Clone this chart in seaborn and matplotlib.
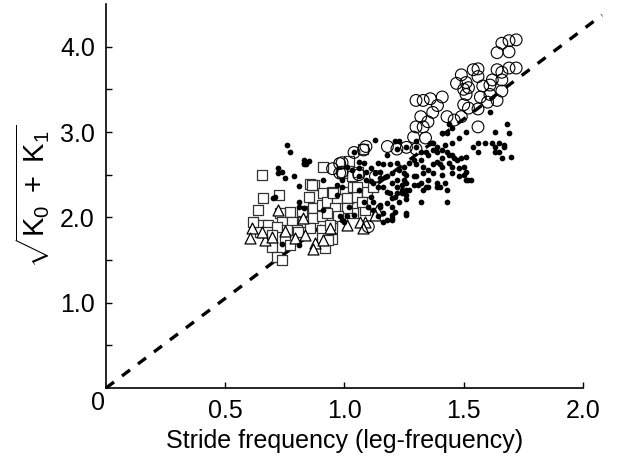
import matplotlib
matplotlib.use("Agg")
import pandas as pd
import seaborn as sns
from matplotlib import pyplot as plt

# open circles
circle_x = [1.66, 1.69, 1.72, 1.64, 1.69, 1.69, 1.72, 1.64, 1.66, 1.54, 1.56, 1.49, 1.56, 1.47,
            1.51, 1.62, 1.66, 1.58, 1.61, 1.52, 1.50, 1.66, 1.57, 1.61, 1.51, 1.50, 1.52, 1.56,
            1.64, 1.60, 1.41, 1.36, 1.33, 1.30, 1.39, 1.37, 1.32, 1.35, 1.43, 1.46, 1.49, 1.30,
            1.33, 1.56, 1.29, 1.34, 1.26, 1.18, 1.30, 1.22, 1.09, 1.08, 1.04, 0.98, 0.99, 0.95,
            0.98, 1.06, 1.13, 1.10, 0.99]
circle_y = [4.04, 4.07, 4.08, 3.93, 3.94, 3.75, 3.75, 3.73, 3.70, 3.73, 3.74, 3.67, 3.65, 3.57,
            3.58, 3.61, 3.61, 3.54, 3.55, 3.52, 3.50, 3.48, 3.41, 3.44, 3.44, 3.32, 3.28, 3.27,
            3.37, 3.35, 3.41, 3.39, 3.37, 3.37, 3.31, 3.23, 3.18, 3.12, 3.18, 3.14, 3.18, 3.06,
            3.06, 3.06, 2.94, 2.93, 2.82, 2.83, 2.80, 2.80, 2.83, 2.79, 2.76, 2.63, 2.64, 2.57,
            2.52, 2.50, 2.48, 1.89, 2.53]

# open squares
square_x = [0.654, 0.725, 0.658, 0.637, 0.855, 0.872, 0.910, 0.851, 0.910, 0.948, 0.771, 0.730,
            0.822, 0.868, 0.906, 0.948, 0.981, 1.002, 0.738, 0.780, 0.826, 0.868, 0.906, 0.948,
            0.981, 0.654, 0.679, 0.717, 0.646, 0.675, 0.616, 0.759, 0.801, 0.855, 0.906, 0.948,
            0.751, 0.696, 0.771, 0.906, 0.948, 0.918, 0.717, 0.738, 0.927, 0.969, 1.010, 1.036,
            1.052, 1.094, 1.119, 1.086, 1.036, 0.994, 1.031, 1.057, 0.990, 1.078, 1.019, 0.864,
            1.052, 0.952, 1.073, 0.960, 1.010, 0.927, 0.973, 0.939, 0.696, 0.805, 0.931]
square_y = [2.50, 2.26, 2.23, 2.09, 2.39, 2.38, 2.59, 2.24, 2.28, 2.30, 2.06, 2.05,
            2.08, 2.11, 2.15, 2.09, 2.22, 2.30, 1.95, 1.95, 1.95, 1.99, 2.01, 1.97,
            2.03, 1.91, 1.91, 1.89, 1.83, 1.83, 1.94, 1.85, 1.85, 1.88, 1.85, 1.88,
            1.75, 1.65, 1.68, 1.76, 1.75, 1.64, 1.54, 1.50, 2.18, 2.21, 2.23, 2.35,
            2.24, 2.30, 2.35, 2.09, 2.05, 2.11, 2.48, 2.53, 2.52, 2.80, 2.66, 2.38,
            2.36, 2.29, 2.18, 2.11, 2.11, 2.05, 2.01, 1.91, 1.79, 1.83, 1.74]

# open triangles
tri_x = [0.612, 0.604, 0.721, 0.667, 0.792, 0.834, 0.876, 0.868, 0.910, 0.696,
         0.826, 0.939, 1.010, 1.086, 1.136, 1.065, 1.078, 1.128, 0.751, 0.654]
tri_y = [1.88, 1.76, 2.09, 1.74, 1.76, 1.79, 1.70, 1.63, 1.74, 1.77,
         1.99, 1.88, 1.91, 1.94, 2.09, 1.95, 1.87, 2.03, 1.84, 1.83]

# small filled dots
dot_x = [0.72, 0.72, 0.75, 0.79, 0.81, 0.71, 0.81, 0.81, 0.83, 0.83, 0.84, 0.83, 0.76, 0.77,
         0.97, 0.97, 0.74, 0.81, 0.99, 1.01, 0.83, 0.85, 0.91, 0.91, 0.98, 1.00, 1.02, 1.04,
         1.12, 1.15, 1.18, 1.20, 1.20, 1.26, 1.32, 1.22, 0.74, 0.70,
         1.13, 1.21, 1.06, 1.03, 1.11, 1.15, 1.18, 1.22, 1.24, 1.26, 1.25, 1.29, 1.29, 1.26,
         1.19, 1.16, 1.12, 1.09, 1.06, 1.11, 0.99, 0.99, 1.22,
         1.23, 1.30, 1.36, 1.42, 1.45, 1.56, 1.59, 1.62, 1.67, 1.70, 1.65, 1.63, 1.56, 1.51,
         1.45, 1.43, 1.39, 1.35, 1.32, 1.30, 1.33, 1.35, 1.40, 1.44, 1.47, 1.48, 1.45, 1.41,
         1.37, 1.33, 1.30, 1.50, 1.52, 1.42, 1.39, 1.43, 1.39, 1.35, 1.32, 1.35, 1.33, 1.31,
         1.26, 1.26, 1.27, 1.24, 1.21, 1.22, 1.20, 1.17, 1.20, 1.23, 1.25, 1.27, 1.22, 1.19,
         1.16, 1.14, 1.08, 1.06, 1.09, 1.13, 1.15, 1.14, 1.18, 1.20, 1.23, 1.43, 1.26, 1.20,
         1.21, 1.20, 1.26, 1.18, 1.16, 1.15, 1.14, 1.12, 1.10, 1.08, 1.16, 1.04, 1.01, 1.06,
         1.11, 1.18, 1.26, 1.30, 1.32, 1.39, 1.41, 1.54, 1.63, 1.67, 1.66,
         1.61, 1.44, 1.45, 1.41, 1.43, 1.63, 1.68, 1.69, 1.65, 1.51, 1.48, 1.41, 1.44, 1.46,
         1.49, 1.50, 1.51, 1.51, 1.48, 1.40, 1.37, 1.29, 1.37, 1.34, 1.37, 1.39, 1.41, 1.45,
         1.53, 1.34, 1.25, 1.24]
dot_y = [2.58, 2.52, 2.46, 2.48, 2.37, 2.24, 2.18, 2.12, 2.11, 2.63, 2.62, 2.67, 2.85, 2.77,
         2.38, 2.26, 1.69, 1.68, 1.97, 2.01, 2.64, 2.66, 2.44, 2.09, 2.01, 1.94, 2.12, 2.03,
         2.18, 2.12, 2.17, 2.03, 1.97, 2.05, 2.18, 2.29, 2.53, 2.23,
         2.91, 2.89, 2.65, 2.56, 2.58, 2.53, 2.48, 2.44, 2.38, 2.32, 2.52, 2.48, 2.38, 2.26,
         2.29, 2.36, 2.40, 2.44, 2.32, 2.24, 2.44, 2.35, 2.80,
         2.89, 2.89, 2.87, 2.85, 2.87, 2.87, 2.87, 2.87, 2.85, 2.71, 2.76, 2.76, 2.77, 2.71,
         2.73, 2.77, 2.76, 2.73, 2.67, 2.62, 2.59, 2.56, 2.62, 2.64, 2.67, 2.58, 2.52, 2.50,
         2.52, 2.52, 2.48, 2.50, 2.44, 2.40, 2.35, 2.32, 2.40, 2.44, 2.40, 2.35, 2.32, 2.38,
         2.50, 2.40, 2.32, 2.29, 2.24, 2.35, 2.40, 2.47, 2.52, 2.56, 2.59, 2.64, 2.64, 2.62,
         2.62, 2.64, 2.64, 2.58, 2.53, 2.52, 2.46, 2.36, 2.30, 2.23, 2.18, 2.18, 2.21, 2.12,
         2.06, 1.99, 2.03, 1.97, 1.94, 2.15, 2.01, 2.09, 2.12, 2.18, 2.05, 2.76, 2.59, 2.48,
         2.42, 2.73, 2.82, 2.83, 2.77, 2.82, 2.70, 2.82, 2.82, 2.83, 2.70,
         3.23, 3.09, 3.05, 2.99, 2.99, 3.00, 3.09, 2.99, 2.87, 3.00, 2.93, 2.79, 2.73, 2.70,
         2.70, 2.59, 2.53, 2.44, 2.48, 2.36, 2.62, 2.67, 2.87, 2.76, 2.79, 2.65, 2.59, 2.59,
         2.44, 2.35, 2.44, 2.32]

# dashed reference line
line_x = [0.0, 2.08]
line_y = [0.0, 4.37]

x_ticks = [0.5, 1.0, 1.5, 2.0]
x_ticklabels = ["0.5", "1.0", "1.5", "2.0"]
y_ticks = [0.5, 1.0, 1.5, 2.0, 2.5, 3.0, 3.5, 4.0]
y_ticklabels = ["", "1.0", "", "2.0", "", "3.0", "", "4.0"]

sns.set_style("ticks")
plt.rcParams["font.family"] = ["Liberation Sans", "DejaVu Sans"]
plt.rcParams["mathtext.fontset"] = "custom"
plt.rcParams["mathtext.rm"] = "Liberation Sans"
plt.rcParams["mathtext.it"] = "Liberation Sans"
plt.rcParams["text.color"] = "black"
plt.rcParams["axes.labelcolor"] = "black"

fig = plt.figure(figsize=(6.21, 4.72), dpi=100)
ax = fig.add_axes([0.1707, 0.178, 0.768, 0.8135])

line_df = pd.DataFrame({"x": line_x, "y": line_y})
sns.lineplot(data=line_df, x="x", y="y", ax=ax, color="black", linewidth=2.4,
             linestyle=(0, (3, 3)), clip_on=False, zorder=1)

sns.scatterplot(x=dot_x, y=dot_y, ax=ax, marker="o", s=17, color="black",
                edgecolor="black", linewidth=0, zorder=3)
sns.scatterplot(x=square_x, y=square_y, ax=ax, marker="s", s=50, facecolor="white",
                edgecolor="#333333", linewidth=0.9, zorder=2)
sns.scatterplot(x=tri_x, y=tri_y, ax=ax, marker="^", s=62, facecolor="white",
                edgecolor="black", linewidth=0.9, zorder=2)
sns.scatterplot(x=circle_x, y=circle_y, ax=ax, marker="o", s=72, facecolor="none",
                edgecolor="black", linewidth=0.8, zorder=2)

ax.set_xlim(0, 2.0)
ax.set_ylim(0, 4.5)
ax.set_xticks(x_ticks)
ax.set_xticklabels(x_ticklabels)
ax.set_yticks(y_ticks)
ax.set_yticklabels(y_ticklabels)
ax.tick_params(direction="in", length=4, width=1, labelsize=18, pad=8,
               colors="black", labelcolor="black")
ax.text(-0.035, -0.03, "0", ha="center", va="top", fontsize=18, color="black")

ax.set_xlabel("Stride frequency (leg-frequency)", fontsize=18, labelpad=4, color="black")
ax.set_ylabel(r"$\sqrt{\mathrm{K}_0\ +\ \mathrm{K}_1}$", fontsize=21, labelpad=6, color="black")

sns.despine(ax=ax)
for side in ["left", "bottom"]:
    ax.spines[side].set_linewidth(1.2)
    ax.spines[side].set_color("black")

fig.savefig("out.png", dpi=100)
